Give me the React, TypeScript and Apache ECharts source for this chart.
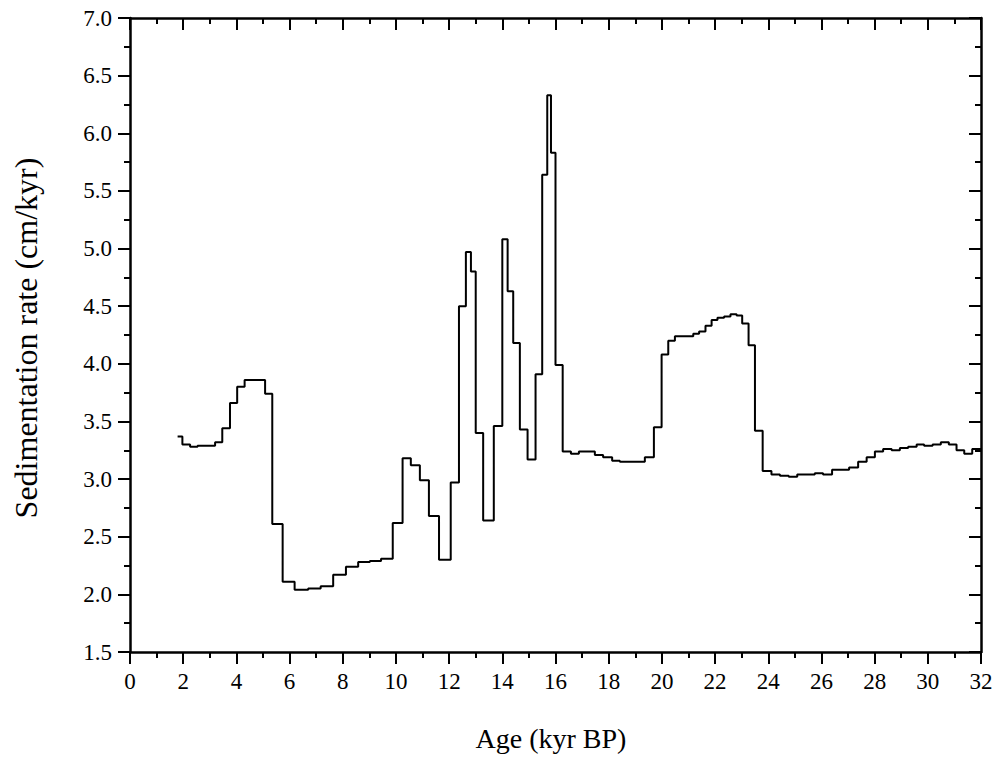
import React, { useEffect, useRef } from "react";
import * as echarts from "echarts";

const ages = [
  1.79, 1.97, 2.26, 2.54, 3.2, 3.47, 3.76, 4.03, 4.31, 5.08, 5.35, 5.74, 6.19, 6.7, 7.17, 7.64, 8.12, 8.58, 9.02, 9.44,
  9.88, 10.25, 10.56, 10.9, 11.24, 11.62, 12.06, 12.37, 12.63, 12.82, 13.0, 13.28, 13.68, 14.0, 14.2, 14.41, 14.66,
  14.95, 15.25, 15.5, 15.69, 15.83, 16.0, 16.27, 16.58, 16.88, 17.48, 17.79, 18.13, 18.42, 19.36, 19.7, 19.99, 20.24,
  20.49, 21.18, 21.4, 21.64, 21.87, 22.09, 22.34, 22.58, 22.81, 23.02, 23.26, 23.5, 23.79, 24.12, 24.44, 24.77, 25.09,
  25.75, 26.06, 26.4, 27.04, 27.38, 27.7, 28.01, 28.32, 28.64, 28.95, 29.26, 29.58, 29.86, 30.18, 30.49, 30.79, 31.08,
  31.37, 31.67, 32.0,
];
const rates = [
  3.37, 3.3, 3.28, 3.29, 3.32, 3.44, 3.66, 3.8, 3.86, 3.74, 2.61, 2.11, 2.04, 2.05, 2.07, 2.17, 2.24, 2.28, 2.29, 2.31,
  2.62, 3.18, 3.12, 2.99, 2.68, 2.3, 2.97, 4.5, 4.97, 4.8, 3.4, 2.64, 3.46, 5.08, 4.63, 4.18, 3.43,
  3.17, 3.91, 5.64, 6.33, 5.83, 3.99, 3.24, 3.22, 3.24, 3.21, 3.19, 3.16, 3.15, 3.19, 3.45, 4.08, 4.2,
  4.24, 4.26, 4.28, 4.33, 4.38, 4.4, 4.41, 4.43, 4.42, 4.35, 4.16, 3.42, 3.07, 3.04, 3.03, 3.02, 3.04,
  3.05, 3.04, 3.08, 3.1, 3.15, 3.19, 3.24, 3.26, 3.25, 3.27, 3.28, 3.3, 3.29, 3.3, 3.32, 3.3, 3.25,
  3.22, 3.26, 3.26,
];

const xTitle = "Age (kyr BP)";
const yTitle = "Sedimentation rate (cm/kyr)";

const FONT = "Liberation Serif";

export default function App() {
  const ref = useRef<HTMLDivElement>(null);
  useEffect(() => {
    if (!ref.current) return;
    const chart = echarts.init(ref.current, undefined, { renderer: "svg" });
    const data = ages.map((a, i) => [a, rates[i]]);
    const lineStyle = { color: "#000", width: 2.5 };
    const tickStyle = { color: "#000", width: 2 };
    const baseX = {
      type: "value" as const,
      min: 0,
      max: 32,
      interval: 2,
      splitLine: { show: false },
      axisLine: { show: true, onZero: false, lineStyle },
      minorTick: { show: true, splitNumber: 2, length: 6, lineStyle: tickStyle },
      minorSplitLine: { show: false },
    };
    const baseY = {
      type: "value" as const,
      min: 1.5,
      max: 7.0,
      interval: 0.5,
      splitLine: { show: false },
      axisLine: { show: true, onZero: false, lineStyle },
      minorTick: { show: true, splitNumber: 2, length: 6, lineStyle: tickStyle },
      minorSplitLine: { show: false },
    };
    chart.setOption({
      animation: false,
      backgroundColor: "#fff",
      textStyle: { fontFamily: FONT },
      grid: { left: 130, right: 19, top: 18, bottom: 110, containLabel: false },
      graphic: [
        {
          type: "text",
          x: 551,
          y: 738,
          style: {
            text: xTitle,
            fill: "#000",
            font: `28px ${FONT}`,
            align: "center",
            verticalAlign: "middle",
          },
        },
        {
          type: "text",
          x: 26,
          y: 338,
          rotation: Math.PI / 2,
          style: {
            text: yTitle,
            fill: "#000",
            font: `32px ${FONT}`,
            align: "center",
            verticalAlign: "middle",
          },
        },
      ],
      xAxis: [
        {
          ...baseX,
          position: "bottom",
          axisTick: { show: true, inside: false, length: 12, lineStyle: tickStyle },
          axisLabel: { show: true, margin: 18, color: "#000", fontFamily: FONT, fontSize: 23 },
        },
        {
          ...baseX,
          position: "top",
          axisTick: { show: true, inside: true, length: 12, lineStyle: tickStyle },
          axisLabel: { show: false },
        },
      ],
      yAxis: [
        {
          ...baseY,
          position: "left",
          axisTick: { show: true, inside: false, length: 12, lineStyle: tickStyle },
          axisLabel: {
            show: true,
            margin: 18,
            color: "#000",
            fontFamily: FONT,
            fontSize: 23,
            formatter: (v: number) => v.toFixed(1),
          },
        },
        {
          ...baseY,
          position: "right",
          axisTick: { show: true, inside: true, length: 12, lineStyle: tickStyle },
          axisLabel: { show: false },
        },
      ],
      series: [
        {
          type: "line",
          step: "end",
          data,
          xAxisIndex: 0,
          yAxisIndex: 0,
          showSymbol: false,
          symbol: "none",
          lineStyle: { color: "#000", width: 2 },
          clip: true,
        },
      ],
    });
    return () => chart.dispose();
  }, []);
  return (
    <div
      ref={ref}
      style={{ width: 1000, height: 762, position: "absolute", left: 0, top: 0, background: "#fff" }}
    />
  );
}
